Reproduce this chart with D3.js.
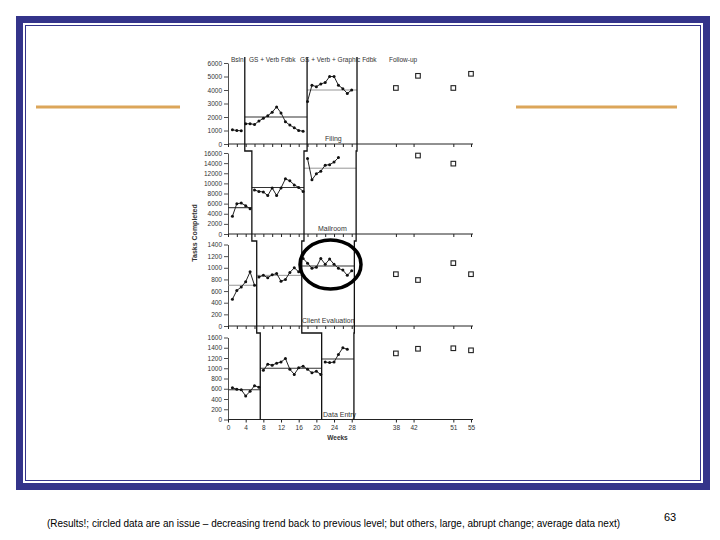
<!DOCTYPE html>
<html><head><meta charset="utf-8">
<script src="https://cdn.jsdelivr.net/npm/d3@7"></script>
<style>body{margin:0;background:#fff}svg{display:block;font-family:"Liberation Sans",Arial,sans-serif}</style>
</head><body>
<svg id="c" width="720" height="540"></svg>
<script>
// ---------- data ----------
const panelNames = ["Filing", "Mailroom", "Client Evaluation", "Data Entry"];
const yMaxes = [6000, 16000, 1400, 1600];
const ySteps = [1000, 2000, 200, 200];
const phaseLabels = ["Bsln", "GS + Verb Fdbk", "GS + Verb + Graphic Fdbk", "Follow-up"];
const xTickLabels = [0, 4, 8, 12, 16, 20, 24, 28, 38, 42, 51, 55];
const phase1End = [3.8, 5.4, 6.5, 7.3];
const phase2End = [17.9, 17.2, 16.7, 21.2];
const phase3End = [29.2, 29.0, 28.6, 28.5];

const filingBaseWeeks = [1, 2, 3];
const filingBase = [1050, 1000, 980];
const filingInt1Weeks = [4, 5, 6, 7, 8, 9, 10, 11, 12, 13, 14, 15, 16, 17];
const filingInt1 = [1500, 1500, 1450, 1700, 1900, 2100, 2350, 2750, 2300, 1650, 1400, 1200, 1000, 950];
const filingInt2Weeks = [18, 19, 20, 21, 22, 23, 24, 25, 26, 27, 28];
const filingInt2 = [3150, 4350, 4250, 4450, 4550, 5000, 5000, 4350, 4100, 3750, 4000];
const filingFollowWeeks = [38, 43, 51, 55];
const filingFollow = [4150, 5050, 4150, 5200];

const mailBaseWeeks = [1, 2, 3, 4, 5];
const mailBase = [3500, 6000, 6100, 5600, 5000];
const mailInt1Weeks = [6, 7, 8, 9, 10, 11, 12, 13, 14, 15, 16, 17];
const mailInt1 = [8700, 8400, 8300, 7600, 9100, 7600, 9100, 10900, 10500, 9700, 9200, 8400];
const mailInt2Weeks = [18, 19, 20, 21, 22, 23, 24, 25];
const mailInt2 = [14900, 10700, 11900, 12400, 13600, 13700, 14200, 15100];
const mailFollowWeeks = [43, 51];
const mailFollow = [15500, 13900];

const evalBaseWeeks = [1, 2, 3, 4, 5, 6];
const evalBase = [460, 610, 670, 760, 930, 700];
const evalInt1Weeks = [7, 8, 9, 10, 11, 12, 13, 14, 15, 16];
const evalInt1 = [840, 870, 830, 880, 900, 770, 800, 920, 1000, 930];
const evalInt2Weeks = [17, 18, 19, 20, 21, 22, 23, 24, 25, 26, 27, 28];
const evalInt2 = [1160, 1080, 990, 1010, 1160, 1060, 1150, 1060, 990, 960, 870, 950];
const evalFollowWeeks = [38, 43, 51, 55];
const evalFollow = [890, 790, 1080, 890];

const entryBaseWeeks = [1, 2, 3, 4, 5, 6, 7];
const entryBase = [620, 590, 580, 460, 550, 660, 630];
const entryInt1Weeks = [8, 9, 10, 11, 12, 13, 14, 15, 16, 17, 18, 19, 20, 21];
const entryInt1 = [960, 1080, 1060, 1100, 1120, 1190, 980, 880, 1010, 1040, 980, 910, 940, 880];
const entryInt2Weeks = [22, 23, 24, 25, 26, 27];
const entryInt2 = [1120, 1110, 1120, 1270, 1400, 1370];
const entryFollowWeeks = [38, 43, 51, 55];
const entryFollow = [1290, 1380, 1390, 1350];

const meanBase = [null, 5200, 700, 580];
const meanInt1 = [2000, 9200, 870, 1000];
const meanInt2 = [4000, 13000, 1030, 1180];

const footerText = "(Results!; circled data are an issue \u2013 decreasing trend back to previous level; but others, large, abrupt change; average data next)";
const pageNumber = "63";

// ---------- build ----------
const zip = (w, v) => w.map((d, i) => ({ w: d, v: v[i] }));
const panels = [
  { base: zip(filingBaseWeeks, filingBase), int1: zip(filingInt1Weeks, filingInt1), int2: zip(filingInt2Weeks, filingInt2), follow: zip(filingFollowWeeks, filingFollow) },
  { base: zip(mailBaseWeeks, mailBase), int1: zip(mailInt1Weeks, mailInt1), int2: zip(mailInt2Weeks, mailInt2), follow: zip(mailFollowWeeks, mailFollow) },
  { base: zip(evalBaseWeeks, evalBase), int1: zip(evalInt1Weeks, evalInt1), int2: zip(evalInt2Weeks, evalInt2), follow: zip(evalFollowWeeks, evalFollow) },
  { base: zip(entryBaseWeeks, entryBase), int1: zip(entryInt1Weeks, entryInt1), int2: zip(entryInt2Weeks, entryInt2), follow: zip(entryFollowWeeks, entryFollow) }
];

const svg = d3.select("#c");
const navy = "#34348a";

// slide frame
svg.append("rect").attr("x", 19.5).attr("y", 19.5).attr("width", 687).attr("height", 467)
  .attr("fill", "none").attr("stroke", navy).attr("stroke-width", 7);
svg.append("rect").attr("x", 25.5).attr("y", 25.5).attr("width", 675).attr("height", 455)
  .attr("fill", "none").attr("stroke", navy).attr("stroke-width", 1);
[[36, 180], [516, 677]].forEach(([a, b]) => {
  svg.append("line").attr("x1", a).attr("x2", b).attr("y1", 107).attr("y2", 107)
    .attr("stroke", "#dca65a").attr("stroke-width", 3);
});

const x = d3.scaleLinear().domain([0, 55]).range([228, 471]);
const tops = [63, 153, 244.5, 337.5];
const bottoms = [144, 234, 326, 419.5];
const ink = "#222";
const minorTicks = d3.range(0, 29, 2).concat([38, 42, 51, 55]);

panels.forEach((p, i) => {
  const y = d3.scaleLinear().domain([0, yMaxes[i]]).range([bottoms[i], tops[i]]);
  const g = svg.append("g");

  // y axis
  const ya = g.append("g").attr("transform", `translate(${x(0)},0)`)
    .call(d3.axisLeft(y).tickValues(d3.range(0, yMaxes[i] + 1, ySteps[i]))
      .tickSize(4).tickSizeOuter(0).tickPadding(2).tickFormat(d3.format("d")));
  ya.selectAll("text").attr("font-size", 6.5).attr("fill", "#333").attr("font-family", "Liberation Sans, Arial");
  ya.selectAll("line,path").attr("stroke", ink).attr("stroke-width", 0.8);

  // x axis
  const xa = g.append("g").attr("transform", `translate(0,${bottoms[i]})`)
    .call(d3.axisBottom(x).tickValues(i === 3 ? xTickLabels : minorTicks)
      .tickSize(3).tickSizeOuter(0).tickPadding(3).tickFormat(i === 3 ? d3.format("d") : ""));
  xa.select("path").attr("d", `M${x(0)},0H${x(55) + 2}`);
  xa.selectAll("text").attr("font-size", 6.5).attr("fill", "#333").attr("font-family", "Liberation Sans, Arial");
  xa.selectAll("line,path").attr("stroke", ink).attr("stroke-width", 1);

  // mean lines
  const means = [
    { v: meanBase[i], a: 0, b: phase1End[i], dark: i !== 2 },
    { v: meanInt1[i], a: phase1End[i], b: phase2End[i], dark: i !== 2 },
    { v: meanInt2[i], a: phase2End[i], b: phase3End[i], dark: i >= 2 }
  ];
  means.filter(m => m.v != null).forEach(m => {
    g.append("line").attr("x1", x(m.a)).attr("x2", x(m.b)).attr("y1", y(m.v)).attr("y2", y(m.v))
      .attr("stroke", m.dark ? "#333" : "#8a8a8a").attr("stroke-width", m.dark ? 1.1 : 0.9);
  });

  // data paths
  const line = d3.line().x(d => x(d.w)).y(d => y(d.v));
  [p.base, p.int1, p.int2].forEach(s => {
    g.append("path").datum(s).attr("d", line).attr("fill", "none")
      .attr("stroke", ink).attr("stroke-width", 1);
    g.selectAll(null).data(s).enter().append("circle")
      .attr("cx", d => x(d.w)).attr("cy", d => y(d.v)).attr("r", 1.5).attr("fill", "#111");
  });
  g.selectAll(null).data(p.follow).enter().append("rect")
    .attr("x", d => x(d.w) - 2.3).attr("y", d => y(d.v) - 2.3).attr("width", 4.6).attr("height", 4.6)
    .attr("fill", "#fff").attr("stroke", ink).attr("stroke-width", 1.1);

  // panel label
  const labelPos = [[325, 140.5], [318, 230.5], [302, 323], [323, 417]];
  g.append("text").attr("x", labelPos[i][0]).attr("y", labelPos[i][1]).text(panelNames[i])
    .attr("font-size", 7).attr("fill", "#333");
});

// phase change lines (staircase across panels)
const jogY = [151, 241, 333];
[phase1End, phase2End, phase3End].forEach(ph => {
  let d = `M${x(ph[0])},57`;
  for (let k = 0; k < 3; k++) {
    d += `V${jogY[k]}H${x(ph[k + 1])}`;
  }
  d += `V${bottoms[3]}`;
  svg.append("path").attr("d", d).attr("fill", "none").attr("stroke", "#111").attr("stroke-width", 1.3);
});

// phase labels
const phaseLabelX = [231, 249, 300, 389];
phaseLabels.forEach((t, k) => {
  svg.append("text").attr("x", phaseLabelX[k]).attr("y", 62).text(t)
    .attr("font-size", 6.5).attr("fill", "#333");
});

// axis titles
svg.append("text").attr("transform", "translate(197,233) rotate(-90)").attr("text-anchor", "middle")
  .text("Tasks Completed").attr("font-size", 7).attr("font-weight", "bold").attr("fill", "#333");
svg.append("text").attr("x", 337.5).attr("y", 440).attr("text-anchor", "middle")
  .text("Weeks").attr("font-size", 6.5).attr("font-weight", "bold").attr("fill", "#333");

// circled annotation
svg.append("ellipse").attr("cx", 330.5).attr("cy", 264.5).attr("rx", 30.5).attr("ry", 24.5)
  .attr("fill", "none").attr("stroke", "#000").attr("stroke-width", 3.5);

// footer
svg.append("text").attr("x", 47).attr("y", 527).text(footerText)
  .attr("font-size", 10).attr("textLength", 573).attr("lengthAdjust", "spacingAndGlyphs").attr("fill", "#000");
svg.append("text").attr("x", 664).attr("y", 521).text(pageNumber).attr("font-size", 11).attr("fill", "#000");
</script>
</body></html>
